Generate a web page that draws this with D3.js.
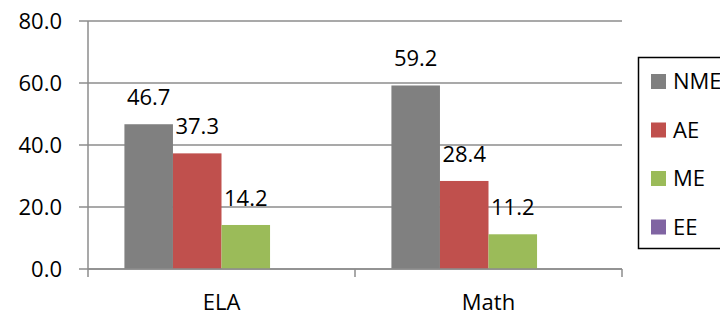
<!DOCTYPE html>
<html>
<head>
<meta charset="utf-8">
<script src="https://cdn.jsdelivr.net/npm/d3@7"></script>
<style>
  body { margin: 0; background: #fff; }
  svg { display: block; font-family: "Open Sans", sans-serif; }
</style>
</head>
<body>
<svg width="720" height="314"></svg>
<script>
const categories = ["ELA", "Math"]
const seriesNames = ["NME", "AE", "ME", "EE"]
const seriesColors = ["#808080", "#C0504D", "#9BBB59", "#8064A2"]
const nme = [46.7, 59.2]
const ae = [37.3, 28.4]
const me = [14.2, 11.2]
const ee = [null, null]
const yTicks = [0, 20, 40, 60, 80]

const values = [nme, ae, me, ee]

const svg = d3.select("svg")
const plotLeft = 88, plotRight = 622, plotTop = 21, plotBottom = 269
const fontSize = 22

const x0 = d3.scaleBand().domain(categories).range([plotLeft, plotRight])
  .paddingInner(0).paddingOuter(0)
const x1 = d3.scaleBand().domain(seriesNames)
  .range([0, x0.bandwidth()]).paddingOuter(0.75).paddingInner(0)
const y = d3.scaleLinear().domain([0, 80]).range([plotBottom, plotTop])

// gridlines
svg.append("g")
  .selectAll("line")
  .data(yTicks)
  .enter()
  .append("line")
  .attr("x1", plotLeft - 9)
  .attr("x2", plotRight)
  .attr("y1", d => y(d))
  .attr("y2", d => y(d))
  .attr("stroke", "#8c8c8c")
  .attr("stroke-width", 1.5)

// y tick labels
svg.append("g")
  .selectAll("text")
  .data(yTicks)
  .enter()
  .append("text")
  .attr("x", 62)
  .attr("y", d => y(d))
  .attr("dy", "0.35em")
  .attr("text-anchor", "end")
  .attr("font-size", fontSize)
  .attr("fill", "#000")
  .text(d => d.toFixed(1))

// y axis line
svg.append("line")
  .attr("x1", plotLeft).attr("x2", plotLeft)
  .attr("y1", plotTop).attr("y2", plotBottom)
  .attr("stroke", "#8c8c8c").attr("stroke-width", 1.5)

// bars
function cellsFor(c, ci) {
  return seriesNames
    .map((s, si) => ({ s: s, i: si, v: values[si][ci] }))
    .filter(d => d.v != null)
}

const groups = svg.append("g")
  .selectAll("g")
  .data(categories)
  .enter()
  .append("g")
  .attr("transform", d => "translate(" + x0(d) + ",0)")

groups.selectAll("rect")
  .data(cellsFor)
  .enter()
  .append("rect")
  .attr("x", d => x1(d.s))
  .attr("width", x1.bandwidth())
  .attr("y", d => y(d.v))
  .attr("height", d => y(0) - y(d.v))
  .attr("fill", d => seriesColors[d.i])

groups.selectAll("text")
  .data(cellsFor)
  .enter()
  .append("text")
  .attr("x", d => x1(d.s) + x1.bandwidth() / 2)
  .attr("y", d => y(d.v) - 19)
  .attr("text-anchor", "middle")
  .attr("font-size", fontSize)
  .attr("fill", "#000")
  .text(d => d.v.toFixed(1))

// x axis
svg.append("line")
  .attr("x1", plotLeft).attr("x2", plotRight)
  .attr("y1", plotBottom).attr("y2", plotBottom)
  .attr("stroke", "#8c8c8c").attr("stroke-width", 1.5)

const bounds = categories.map(c => x0(c)).concat([plotRight])
svg.append("g")
  .selectAll("line")
  .data(bounds)
  .enter()
  .append("line")
  .attr("x1", d => d).attr("x2", d => d)
  .attr("y1", plotBottom).attr("y2", plotBottom + 8)
  .attr("stroke", "#8c8c8c").attr("stroke-width", 1.5)

svg.append("g")
  .selectAll("text")
  .data(categories)
  .enter()
  .append("text")
  .attr("x", d => x0(d) + x0.bandwidth() / 2)
  .attr("y", 310)
  .attr("text-anchor", "middle")
  .attr("font-size", fontSize)
  .attr("fill", "#000")
  .text(d => d)

// legend
const legend = svg.append("g").attr("id", "legend")
legend.append("rect")
  .attr("x", 638.5).attr("y", 57.5)
  .attr("width", 100).attr("height", 191)
  .attr("fill", "none")
  .attr("stroke", "#000")
  .attr("stroke-width", 1.5)

const legendItem = legend.selectAll(".legenditem")
  .data(seriesNames)
  .enter()
  .append("g")
  .attr("class", "legenditem")
  .attr("transform", (d, i) => "translate(651," + (74 + i * 48.5) + ")")

legendItem.append("rect")
  .attr("width", 15).attr("height", 15)
  .attr("fill", (d, i) => seriesColors[i])

legendItem.append("text")
  .attr("x", 22)
  .attr("y", 7.5)
  .attr("dy", "0.35em")
  .attr("font-size", fontSize)
  .attr("fill", "#000")
  .text(d => d)
</script>
</body>
</html>
